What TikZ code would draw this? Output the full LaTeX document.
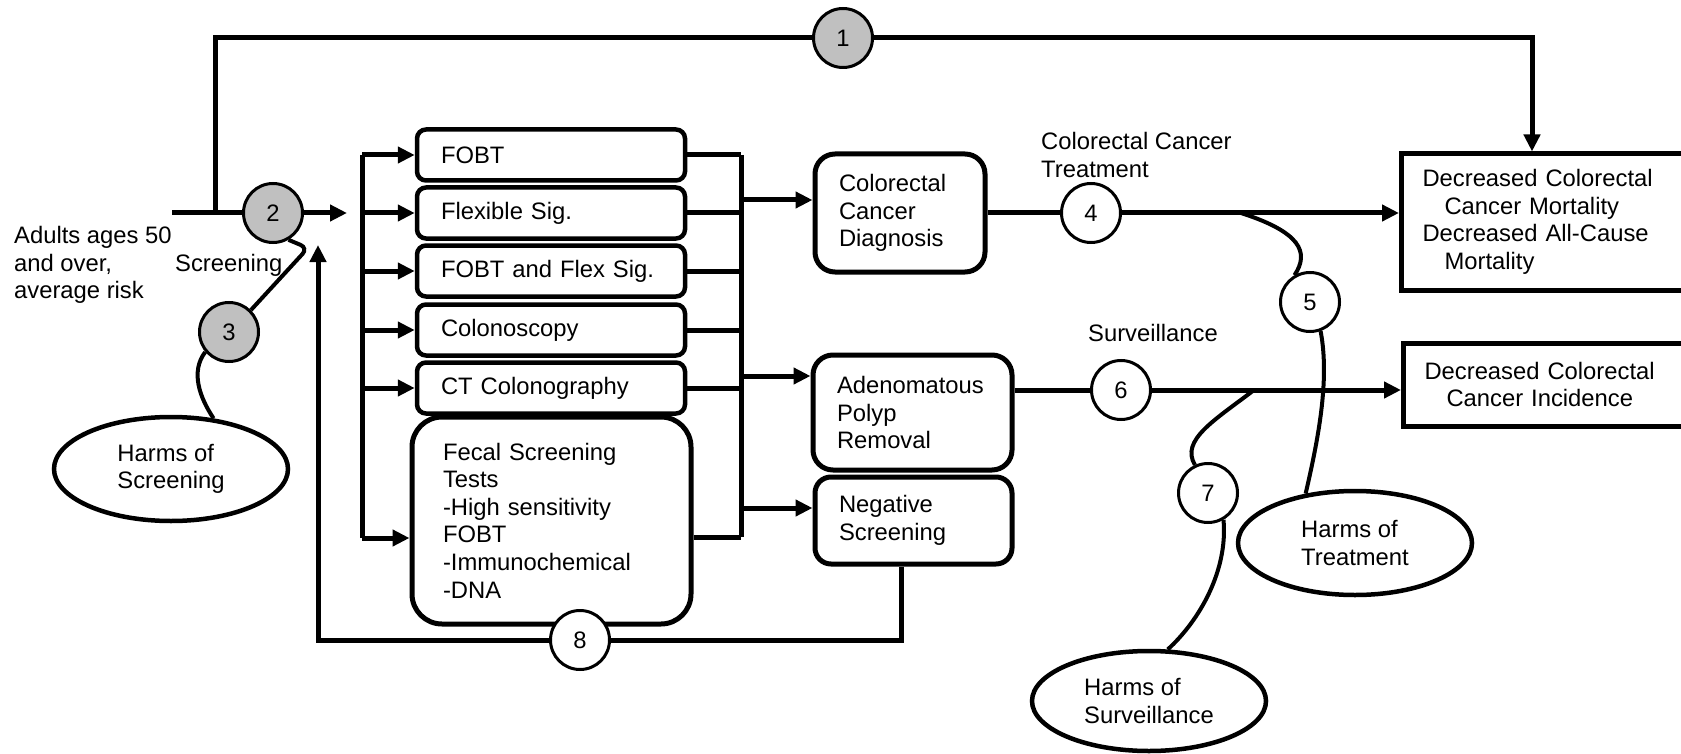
\documentclass[tikz,border=0pt]{standalone}
\usepackage{fontspec}
\setmainfont{Liberation Sans}
\usetikzlibrary{arrows.meta,shapes.geometric}
\definecolor{kqgray}{RGB}{192,192,192}

\begin{document}
\begin{tikzpicture}[x=1pt,y=-1pt,
  every node/.style={font=\fontsize{23.8}{27.6}\selectfont},
  link/.style={line width=5pt},
  flow/.style={line width=5pt,-{Triangle[length=17pt,width=16pt]}},
  harm/.style={line width=4pt},
  testbox/.style={draw,line width=4.5pt,rounded corners=9pt,minimum height=51pt,text width=220pt,inner xsep=24pt,align=left},
  stepbox/.style={draw,line width=5pt,rounded corners=20pt,inner xsep=24pt,align=left},
  outbox/.style={draw,line width=5pt,anchor=west,text width=280pt,inner xsep=21pt,align=left},
  kq/.style={circle,draw,line width=3pt,minimum size=59pt,inner sep=0pt,fill=white},
  kqs/.style={kq,fill=kqgray},
  harmbox/.style={ellipse,draw,line width=4.5pt,minimum width=234pt,minimum height=104pt,inner sep=0pt,align=left},
  lbl/.style={anchor=west,inner sep=0pt,align=left}]
\useasboundingbox (0,0) rectangle (1681,754);

% population and screening tests
\node[lbl] (pop) at (14,265) {Adults ages 50\\and over,\\average risk};
\node[lbl] (scrlbl) at (175,265) {Screening};
\node[testbox] (fobt) at (551,155) {FOBT};
\node[testbox] (flex) at (551,213) {Flexible Sig.};
\node[testbox] (fobtflex) at (551,271) {FOBT and Flex Sig.};
\node[testbox] (colo) at (551,330) {Colonoscopy};
\node[testbox] (ctc) at (551,388) {CT Colonography};
\node[stepbox,rounded corners=30pt,minimum height=207pt,text width=217pt,inner xsep=31pt] (fecal) at (551.5,520.5) {Fecal Screening\\Tests\\-High sensitivity\\FOBT\\-Immunochemical\\-DNA};

% intermediate outcomes
\node[stepbox,minimum height=118pt,text width=122pt] (crc) at (900,213) {Colorectal\\Cancer\\Diagnosis};
\node[stepbox,minimum height=115pt,text width=151pt] (polyp) at (912.5,412.5) {Adenomatous\\Polyp\\Removal};
\node[stepbox,rounded corners=16pt,minimum height=87pt,text width=149pt] (neg) at (913.5,520.5) {Negative\\Screening};

% health outcomes
\node[outbox,minimum height=136pt] (mort) at (1399,222) {Decreased Colorectal\\\hspace*{22pt}Cancer Mortality\\Decreased All-Cause\\\hspace*{22pt}Mortality};
\node[outbox,minimum height=83pt] (inc) at (1401,384.5) {Decreased Colorectal\\\hspace*{22pt}Cancer Incidence};

% harms
\node[harmbox] (hscr) at (171,469) {Harms of\\Screening};
\node[harmbox] (htrt) at (1355,543) {Harms of\\Treatment};
\node[harmbox,minimum height=100pt] (hsurv) at (1149,701) {Harms of\\Surveillance};

% labels
\node[lbl] (trtlbl) at (1041,155) {Colorectal Cancer\\Treatment};
\node[lbl] (survlbl) at (1088,333) {Surveillance};

% key questions
\node[kqs] (k1) at (843,38) {1};
\node[kqs] (k2) at (273,213) {2};
\node[kqs] (k3) at (229,332) {3};
\node[kq] (k4) at (1091,213) {4};
\node[kq] (k5) at (1310,302) {5};
\node[kq] (k6) at (1121,390) {6};
\node[kq] (k7) at (1208,493) {7};
\node[kq] (k8) at (580,640) {8};

\coordinate (start) at (172,213);
\coordinate (split) at (215,213);
\coordinate (busin) at (347,213);
\coordinate (lbtop) at (362,155);
\coordinate (lbbot) at (362,538);
\coordinate (rbtop) at (741,155);
\coordinate (rbbot) at (741,537);
\coordinate (rb1) at (741,200);
\coordinate (rb2) at (741,376);
\coordinate (rb3) at (741,508);
\coordinate (j5) at (1241,213);
\coordinate (j7) at (1254,390);
\coordinate (fbtip) at (318,245);

% overarching path and screening
\draw[link] (start) -- (k2);
\draw[flow] (k2) -- (busin);
\draw[link] (split) |- (k1);
\draw[flow] (k1) -| ([xshift=133pt]mort.north west);

% buses
\draw[link] (lbtop) -- (lbbot);
\foreach \t in {fobt,flex,fobtflex,colo,ctc}
  \draw[flow] (lbtop |- \t.west) -- (\t.west);
\draw[flow] (lbbot) -- (lbbot -| fecal.west);
\foreach \t in {fobt,flex,fobtflex,colo,ctc}
  \draw[link] (\t.east) -- (\t.east -| rbtop);
\draw[link] (rbbot -| fecal.east) -- (rbbot);
\draw[link] (rbtop) -- (rbbot);
\draw[flow] (rb1) -- (rb1 -| crc.west);
\draw[flow] (rb2) -- (rb2 -| polyp.west);
\draw[flow] (rb3) -- (rb3 -| neg.west);

% outcomes
\draw[link] (crc.east) -- (k4);
\draw[flow] (k4) -- (k4 -| mort.west);
\draw[link] (k6 -| polyp.east) -- (k6);
\draw[flow] (k6) -- (k6 -| inc.west);
\draw[link] ([xshift=-12pt]neg.south) |- (k8);
\draw[flow] (k8) -| (fbtip);

% harms
\draw[harm,rounded corners=8pt] (k2.-60) -- (308,248) -- (k3.45);
\draw[harm] (k3.-140) .. controls (190,372) and (200,398) .. (hscr.50);
\draw[harm] (j5) .. controls (1300,232) and (1310,252) .. (k5.120);
\draw[harm] (k5.-70) .. controls (1330,380) and (1318,440) .. (htrt.135);
\draw[harm] (j7) .. controls (1215,420) and (1180,440) .. (k7.115);
\draw[harm] (k7.-60) .. controls (1228,570) and (1200,620) .. (hsurv.70);
\end{tikzpicture}
\end{document}
